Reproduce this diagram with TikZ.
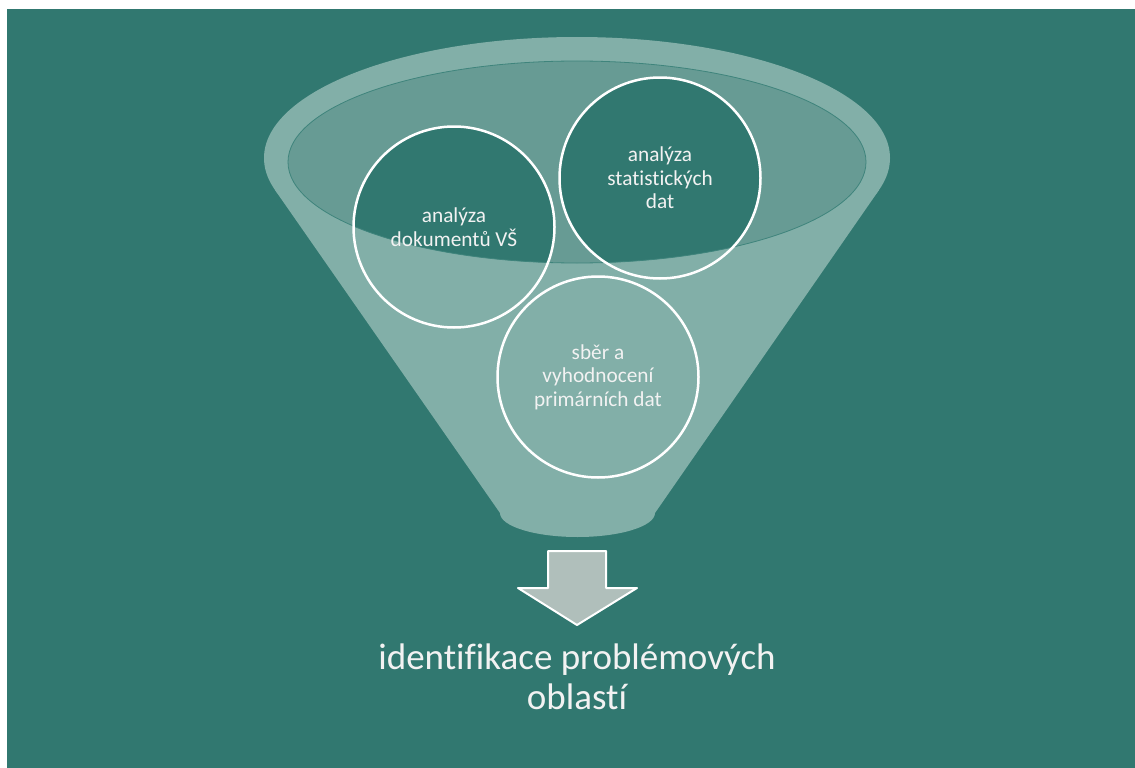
\documentclass[tikz,border=0pt]{standalone}
\usepackage{fontspec}
\setmainfont[Ligatures=NoCommon]{Carlito}
\definecolor{bg}{HTML}{317870}
\definecolor{funnel}{HTML}{82AFA8}
\definecolor{mouth}{HTML}{679B94}
\definecolor{rim}{HTML}{3F847C}
\definecolor{arrowfill}{HTML}{B0BFBB}
\definecolor{txt}{HTML}{F2F2F2}
\begin{document}
\begin{tikzpicture}[x=1pt,y=-1pt,line join=round]
		\tikzset{bubble/.style={circle,draw=white,line width=2.5pt,minimum size=201pt,inner sep=0pt,align=center,text=txt,font=\fontsize{21.3}{23.5}\selectfont}}
	\useasboundingbox (0,0) rectangle (1135,768);
	\fill[white] (0,0) rectangle (1135,768);
	\fill[bg] (7,9) rectangle (1135,768);
	\fill[funnel] (577,158) ellipse (313pt and 121pt);
	\fill[funnel] (275,190)--(500,513)--(655,513)--(879,190)--cycle;
	\fill[funnel] (577.5,513) ellipse (77.5pt and 24pt);
	\fill[mouth] (577,162) ellipse (289pt and 101pt);
	\begin{scope}
		\clip (577,162) ellipse (289pt and 101pt);
		\fill[bg] (454,227) circle (100.5pt) (660,178) circle (100.5pt);
	\end{scope}
	\draw[rim,line width=0.8pt] (577,162) ellipse (289pt and 101pt);
	\node[bubble] (dok) at (454,227) {analýza\\dokumentů VŠ};
	\node[bubble] (stat) at (660,178) {analýza\\statistických\\dat};
	\node[bubble] (prim) at (598,377) {sběr a\\vyhodnocení\\primárních dat};
	\draw[white,line width=2pt,fill=arrowfill] (548,551)--(606,551)--(606,588)--(637,588)--(577,625)--(518,588)--(548,588)--cycle;
	\node[text=txt,align=center,font=\fontsize{37}{40}\selectfont] (goal) at (577,677) {identifikace problémových\\oblastí};
\end{tikzpicture}
\end{document}
